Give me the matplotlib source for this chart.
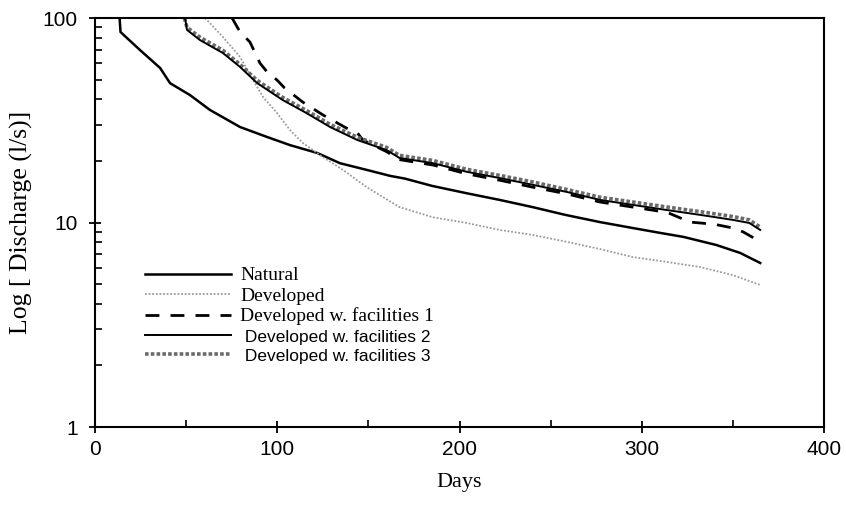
import matplotlib
matplotlib.use("Agg")
import matplotlib.pyplot as plt
from matplotlib.ticker import FixedLocator, NullFormatter

# Значения (сутки, расход л/с)
natural_days = [13.5, 14, 24.7, 35.7, 41.2, 52.1, 63.1, 79.6, 94.4, 107, 121.8, 134.4,
                150, 162, 170, 185, 204, 222, 240, 258, 277, 295, 310, 323, 341, 354, 365]
natural_q = [100, 85.4, 69.7, 57, 48, 42, 35.5, 29.3, 26.2, 23.9, 21.9, 19.5,
             18.0, 16.9, 16.4, 15.1, 13.9, 12.9, 11.9, 10.9, 10.05, 9.4, 8.9, 8.5, 7.76, 7.1, 6.34]

dev_days = [60.4, 70.2, 79.6, 86.7, 92.2, 99.9, 107, 114, 125, 136, 149, 167, 185.5,
            204, 222, 240, 259, 277, 295, 314, 332, 350, 365]
dev_q = [100, 80.7, 64.5, 49.7, 41.1, 34.3, 28.3, 24.5, 20.9, 18.1, 14.9, 11.9, 10.6,
         9.95, 9.2, 8.7, 8.04, 7.42, 6.78, 6.41, 6.06, 5.53, 4.95]

fac1_days = [75.2, 79.6, 85, 90.5, 94.4, 99.9, 104, 114, 125, 140, 144, 147, 160, 167,
             185.5, 204, 222, 240, 259, 277, 295, 314, 326.5, 340, 350, 355.6, 360.5, 365]
fac1_q = [100, 85.4, 76.3, 60.2, 54.5, 49.7, 45.5, 38.8, 33.6, 28.3, 27.4, 25.3, 22.2, 20.3,
          19.1, 17.3, 16.1, 14.9, 13.8, 12.6, 11.9, 11.2, 10.05, 9.8, 9.4, 9.0, 8.5, 7.9]

fac2_days = [49.4, 50.5, 57.6, 70.2, 79.6, 88.9, 103, 116, 129, 144, 160, 167, 185.5,
             204, 222, 240, 259, 277, 295, 314, 332, 350, 359, 365]
fac2_q = [100, 87.4, 78, 67.4, 57.6, 48.1, 39.7, 34.3, 29.3, 25.3, 22.6, 20.7, 19.5,
          17.7, 16.5, 15.3, 14.1, 12.9, 12.2, 11.5, 10.9, 10.3, 9.95, 9.2]

fac3_days = [49.0, 50.5, 57.6, 70.2, 79.6, 88.9, 103, 116, 129, 144, 160, 167, 185.5,
             204, 222, 240, 259, 277, 295, 314, 332, 350, 359, 365]
fac3_q = [100, 90, 80.5, 69.5, 59.3, 49.6, 40.9, 35.3, 30.2, 26.1, 23.3, 21.3, 20.1,
          18.2, 17.0, 15.8, 14.5, 13.3, 12.6, 11.9, 11.3, 10.7, 10.3, 9.5]

labels = ["Natural", "Developed", "Developed w. facilities 1",
          " Developed w. facilities 2", " Developed w. facilities 3"]

fig = plt.figure(figsize=(8.46, 5.13), dpi=100)
ax = fig.add_axes([0.1123, 0.1676, 0.8617, 0.7973])

l1, = ax.plot(natural_days, natural_q, color="black", lw=1.8)
l2, = ax.plot(dev_days, dev_q, color="#9a9a9a", lw=1.3, linestyle=(0, (1, 1)))
l3, = ax.plot(fac1_days, fac1_q, color="black", lw=2.0, linestyle=(0, (5, 4)))
l5, = ax.plot(fac3_days, fac3_q, color="#6a6a6a", lw=2.6, linestyle=(0, (1, 0.6)))
l4, = ax.plot(fac2_days, fac2_q, color="black", lw=1.4)

ax.set_yscale("log")
ax.set_xlim(0, 400)
ax.set_ylim(1, 100)

ax.xaxis.set_major_locator(FixedLocator([0, 100, 200, 300, 400]))
ax.xaxis.set_minor_locator(FixedLocator([50, 150, 250, 350]))
ax.yaxis.set_major_locator(FixedLocator([1, 10, 100]))
ax.set_yticklabels(["1", "10", "100"])
ax.yaxis.set_minor_formatter(NullFormatter())

ax.tick_params(axis="both", which="major", direction="inout", length=9, width=1.3)
ax.tick_params(axis="both", which="minor", direction="in", length=5, width=1.2)
ax.tick_params(axis="x", labelsize=15, pad=5)
ax.tick_params(axis="y", labelsize=15, pad=8)
for t in ax.get_xticklabels() + ax.get_yticklabels():
    t.set_fontfamily("Liberation Sans")

for s in ax.spines.values():
    s.set_linewidth(1.5)

ax.set_xlabel("Days", fontfamily="Liberation Serif", fontsize=16, labelpad=10)
ax.set_ylabel("Log [ Discharge (l/s)]", fontfamily="Liberation Serif", fontsize=18.5, labelpad=7)

leg = ax.legend([l1, l2, l3, l4, l5], labels, loc="lower left",
                bbox_to_anchor=(0.0686, 0.154), frameon=False, handlelength=4.4,
                handletextpad=0.5, labelspacing=0.14, fontsize=14,
                borderpad=0, borderaxespad=0)
fams = ["Liberation Serif"] * 3 + ["Liberation Sans"] * 2
for t, f in zip(leg.get_texts(), fams):
    t.set_fontfamily(f)
    if f == "Liberation Sans":
        t.set_fontsize(12.5)

fig.savefig("out.png", dpi=100)
